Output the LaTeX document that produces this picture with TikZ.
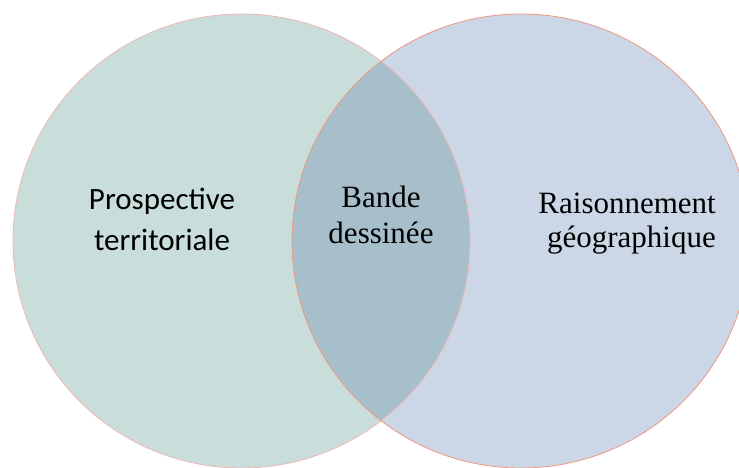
\documentclass[tikz,border=0pt]{standalone}
\usepackage{fontspec}
\setmainfont{Liberation Serif}
\newfontfamily\carlito{Carlito}
\usepackage{xcolor}
\usepackage{tikz}

\definecolor{prospfill}{HTML}{C9DDDA}
\definecolor{geofill}{HTML}{CBD7E6}
\definecolor{bdfill}{HTML}{A6BFCB}
\definecolor{prospline}{HTML}{F0B8B4}
\definecolor{geoline}{HTML}{EE9880}

\begin{document}
\begin{tikzpicture}[x=1pt, y=1pt,
    settext/.style={inner sep=0pt, align=center, text=black}]
        \useasboundingbox (0, 0) rectangle (739, 468);
        \clip (0, 0) rectangle (739, 468);

        % the two sets
        \fill[prospfill] (241.5, 227) ellipse (228.5 and 227);
        \fill[geofill] (521, 227) ellipse (229 and 227);
        \begin{scope}
            \clip (241.5, 227) ellipse (228.5 and 227);
            \fill[bdfill] (521, 227) ellipse (229 and 227);
        \end{scope}
        \draw[prospline, line width = 0.8pt] (241.5, 227) ellipse (228.5 and 227);
        \draw[geoline, line width = 0.8pt] (521, 227) ellipse (229 and 227);

        % labels
        \node[settext, font = \carlito\fontsize{31}{41}\selectfont] (prosp) at (162, 249)
            {Prospective\\territoriale};
        \node[settext, font = \fontsize{31}{36}\selectfont] (bd) at (381, 253.5)
            {Bande\\dessin\'ee};
        \node[settext, align = right, font = \fontsize{31}{34}\selectfont, anchor = east] (geo) at (716, 244)
            {Raisonnement\\g\'eographique};
\end{tikzpicture}
\end{document}
